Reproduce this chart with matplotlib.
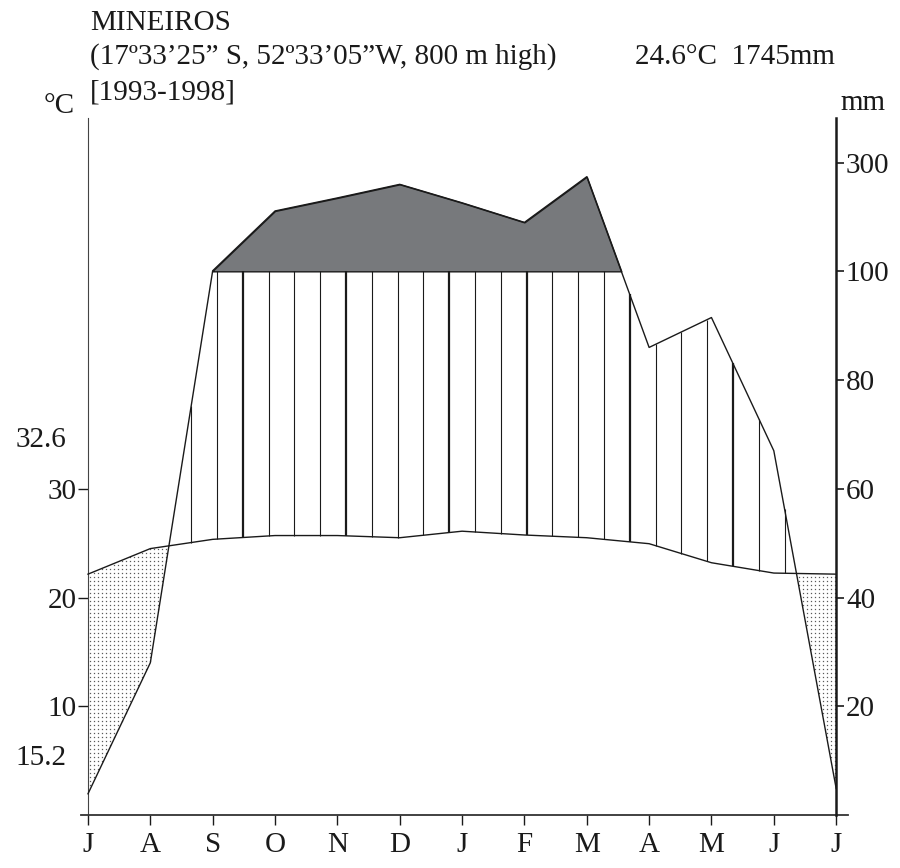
import numpy as np
import matplotlib.pyplot as plt

# Walter-Lieth climate diagram, Mineiros (July to July)
months = ['J', 'A', 'S', 'O', 'N', 'D', 'J', 'F', 'M', 'A', 'M', 'J', 'J']
temp = [22.15, 24.5, 25.35, 25.7, 25.7, 25.5, 26.1, 25.75, 25.5, 24.95, 23.2, 22.25, 22.15]   # degC
precip = [3.9, 28, 101, 211, 235, 260, 226, 190, 274, 86, 91.5, 67, 4.9]                    # mm

temp_ticks = [10, 20, 30]
precip_ticks = [20, 40, 60, 80, 100, 300]

plt.rcParams['font.family'] = ['Liberation Serif', 'DejaVu Serif']
ink = '#1a1a1a'


def to_display(p):
    # 20 mm = 10 degC below 100 mm, scale compressed 1:10 above that
    p = np.asarray(p, dtype=float)
    return np.where(p <= 100, p / 2.0, 50 + (p - 100) / 20.0)


x = np.arange(len(months))
pdisp = to_display(precip)
temp = np.array(temp)

fig = plt.figure(figsize=(9, 8.68), dpi=100)
ax = fig.add_axes([81 / 900, 53 / 868, 767 / 900, 697 / 868])
ax.set_xlim(-0.112, 12.19)
ax.set_ylim(0, 64.1)

# perhumid part (> 100 mm) in solid grey
ax.fill_between(x, 50, pdisp, where=pdisp > 50, interpolate=True,
                facecolor='#77797c', edgecolor=ink, linewidth=1.0, zorder=2)

# humid part: vertical hatching between temperature and precipitation
xs = np.arange(0, 12, 12 / 29)
t_at = np.interp(xs, x, temp)
p_at = np.minimum(np.interp(xs, x, pdisp), 50)
wet = p_at > t_at
thick = np.isin(np.arange(len(xs)), [6, 10, 14, 17, 21, 25])
ax.vlines(xs[wet], t_at[wet], p_at[wet], colors=ink,
          linewidths=np.where(thick[wet], 1.6, 0.8), zorder=2)

# dry part: dotted
gx, gy = np.meshgrid(np.arange(0.04, 12, 4 / 62.33), np.arange(0.2, 40, 4 / 10.87))
dry = (gy < np.interp(gx, x, temp)) & (gy > np.interp(gx, x, pdisp))
ax.plot(gx[dry], gy[dry], linestyle='none', marker='s', markersize=0.9,
        markeredgewidth=0, color='#5a5a5a', zorder=1)

ax.plot(x, temp, color=ink, lw=1.0, zorder=3)
ax.plot(x, pdisp, color=ink, lw=1.0, zorder=3)

# axes
ax.spines['top'].set_visible(False)
ax.spines['right'].set_visible(False)
ax.spines['left'].set_position(('data', 0))
ax.spines['left'].set_bounds(0, 64.1)
ax.spines['left'].set_color('#444444')
ax.spines['bottom'].set_linewidth(1.3)
ax.spines['bottom'].set_color('#333333')
ax.set_xticks(x)
ax.set_xticklabels(months)
ax.set_yticks(temp_ticks)
ax.tick_params(axis='x', direction='out', length=7, width=1, labelsize=21, pad=5, colors=ink)
ax.tick_params(axis='y', direction='out', length=7, width=1, labelsize=21, pad=1, colors=ink)

ax2 = ax.twinx()
ax2.set_ylim(ax.get_ylim())
for side in ['top', 'left', 'bottom']:
    ax2.spines[side].set_visible(False)
ax2.spines['right'].set_position(('data', 12))
ax2.spines['right'].set_bounds(0, 64.1)
ax2.spines['right'].set_linewidth(1.8)
ax2.spines['right'].set_color(ink)
ax2.set_yticks(to_display(precip_ticks))
ax2.set_yticklabels([str(v) for v in precip_ticks])
ax2.tick_params(axis='y', direction='out', length=6, width=1.2, labelsize=21, pad=1, colors=ink)


# header and extra labels
def ftext(px, py, s, size=21, **kw):
    fig.text(px / 900, 1 - py / 868, s, fontsize=size, color=ink, va='center', **kw)


ftext(90, 23, 'MINEIROS')
ftext(90, 57, '(17º33’25” S, 52º33’05”W, 800 m high)')
ftext(835, 57, '24.6°C  1745mm', ha='right')
ftext(90, 92, '[1993-1998]')
ftext(75, 106, '°C', ha='right')
ftext(840, 103, 'mm')
ftext(66, 440, '32.6', ha='right')
ftext(66, 758, '15.2', ha='right')

fig.savefig('out.png', dpi=100)
